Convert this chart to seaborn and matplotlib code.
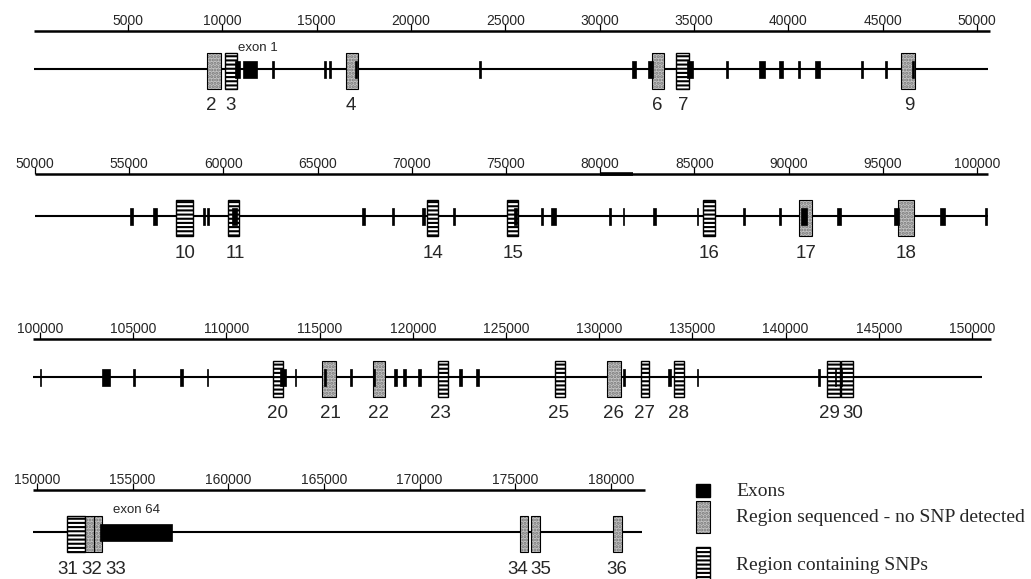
import numpy as np
import pandas as pd
import seaborn as sns
import matplotlib.pyplot as plt
from matplotlib.patches import Rectangle

# ---- data (base pairs), one block per map row ----
ticks_1 = [5000, 10000, 15000, 20000, 25000, 30000, 35000, 40000, 45000, 50000]
scale_1 = (0, 50700)
backbone_1 = (0, 50570)
exons_1 = [(10670, 10930), (11090, 11830), (12620, 12760), (15400, 15490), (15660, 15750),
           (17030, 17160), (23600, 23710), (31710, 31920), (32560, 32820), (34620, 34940),
           (36690, 36800), (38440, 38750), (39500, 39710), (40510, 40610), (41400, 41670),
           (43850, 43950), (45130, 45210), (46550, 46680)]
plain_1 = [(9180, 9930), (16550, 17190), (32770, 33400), (45960, 46700)]
snp_1 = [(10140, 10770), (34040, 34730)]
names_1 = ['2', '3', '4', '6', '7', '9']
name_pos_1 = [9400, 10450, 16800, 33030, 34410, 46390]

ticks_2 = [50000, 55000, 60000, 65000, 70000, 75000, 80000, 85000, 90000, 95000, 100000]
scale_2 = (50000, 100600)
heavy_2 = (80000, 81750)
backbone_2 = (50000, 100580)
exons_2 = [(55060, 55200), (56250, 56490), (58920, 59020), (59150, 59250), (60440, 60740),
           (67370, 67490), (68930, 69050), (70540, 70680), (72170, 72310), (75420, 75560),
           (76870, 76990), (77390, 77640), (80460, 80580), (81190, 81270), (82800, 82940),
           (85140, 85200), (87570, 87690), (89480, 89600), (90640, 90960), (92550, 92800),
           (95610, 95860), (98040, 98300), (100450, 100510)]
plain_2 = [(90550, 91220), (95820, 96660)]
snp_2 = [(57470, 58400), (60260, 60840), (70820, 71380), (75040, 75660), (85470, 86090)]
names_2 = ['10', '11', '14', '15', '16', '17', '18']
name_pos_2 = [57960, 60620, 71140, 75370, 85790, 90920, 96220]

ticks_3 = [100000, 105000, 110000, 115000, 120000, 125000, 130000, 135000, 140000, 145000, 150000]
scale_3 = (99620, 151020)
backbone_3 = (99620, 150540)
exons_3 = [(99980, 100040), (103310, 103760), (105000, 105120), (107530, 107670), (108950, 109010),
           (112880, 113180), (113690, 113750), (115230, 115350), (116610, 116750), (117850, 117990),
           (119010, 119150), (119470, 119610), (120280, 120420), (122500, 122640), (123390, 123530),
           (131260, 131400), (133690, 133830), (135250, 135310), (141760, 141820), (142670, 142730),
           (142930, 143010)]
plain_3 = [(115150, 115880), (117850, 118510), (130440, 131150)]
snp_3 = [(112480, 113050), (121340, 121900), (127630, 128170), (132230, 132690), (134030, 134550),
         (142240, 142920), (142960, 143630)]
names_3 = ['20', '21', '22', '23', '25', '26', '27', '28', '29', '30']
name_pos_3 = [112730, 115560, 118150, 121460, 127800, 130790, 132420, 134240, 142330, 143600]

ticks_4 = [150000, 155000, 160000, 165000, 170000, 175000, 180000]
scale_4 = (149790, 181780)
backbone_4 = (149790, 181620)
exons_4 = [(153290, 157060)]
plain_4 = [(152510, 152980), (152980, 153400), (175250, 175670), (175820, 176290), (180100, 180580)]
snp_4 = [(151570, 152510)]
names_4 = ['31', '32', '33', '34', '35', '36']
name_pos_4 = [151600, 152850, 154100, 175130, 176350, 180300]

exon_names = [('exon 1', 11900), ('exon 64', 155200)]

legend_labels = ['Exons', 'Region sequenced - no SNP detected', 'Region containing SNPs']

rows = [
    (ticks_1, scale_1, backbone_1, exons_1, plain_1, snp_1, names_1, name_pos_1),
    (ticks_2, scale_2, backbone_2, exons_2, plain_2, snp_2, names_2, name_pos_2),
    (ticks_3, scale_3, backbone_3, exons_3, plain_3, snp_3, names_3, name_pos_3),
    (ticks_4, scale_4, backbone_4, exons_4, plain_4, snp_4, names_4, name_pos_4),
]

# ---- layout (pixels of a 1031x579 canvas) ----
W, H = 1031, 579
# calibration: two ticks -> pixel x, then backbone y, scale y, band top, band bottom
layout = [
    (5000, 128, 50000, 977, 69, 31, 0, 122),
    (50000, 35, 100000, 977, 216, 174, 122, 282),
    (100000, 40, 150000, 972, 377, 339, 282, 445),
    (150000, 37, 180000, 611, 532, 490, 445, 579),
]

sns.set_theme(style="white")
plt.rcParams['font.family'] = ['Liberation Sans', 'DejaVu Sans']
plt.rcParams['hatch.linewidth'] = 1.5

fig = plt.figure(figsize=(W / 100, H / 100), dpi=100)
fig.patch.set_facecolor('white')

stipple = dict(facecolor='#c4c4c4', edgecolor='#777777', hatch='.....', linewidth=0)

for i, (row, lay) in enumerate(zip(rows, layout)):
    ticks, scale, backbone, exons, plain, snp, names, name_pos = row
    bp_a, px_a, bp_b, px_b, y_bb, y_sc, top, bottom = lay
    ax = fig.add_axes([0, 1 - bottom / H, 1, (bottom - top) / H])
    ax.set_axis_off()
    per_px = (bp_b - bp_a) / (px_b - px_a)
    ax.set_xlim(bp_a - px_a * per_px, bp_a + (W - px_a) * per_px)
    ax.set_ylim(y_bb - bottom, y_bb - top)
    sc = y_bb - y_sc

    # ruler
    ax.hlines(sc, scale[0], scale[1], color='black', lw=1.8)
    if i == 1:
        ax.hlines(sc - 0.4, heavy_2[0], heavy_2[1], color='black', lw=2.6)
    ax.vlines(ticks, sc, sc + 7, color='black', lw=0.9)
    for t in ticks:
        ax.text(t, sc + 3, str(t), ha='center', va='bottom', fontsize=10)

    # backbone
    ax.hlines(0, backbone[0], backbone[1], color='black', lw=1.5, zorder=1)

    for s, e in plain:
        ax.add_patch(Rectangle((s, -20), e - s, 36, zorder=2, **stipple))
        ax.add_patch(Rectangle((s, -20), e - s, 36, fill=False, edgecolor='black',
                               lw=0.8, zorder=3))
    for s, e in snp:
        ax.add_patch(Rectangle((s, -20), e - s, 36, facecolor='white', edgecolor='black',
                               hatch='----', lw=1.0, zorder=2))
    for s, e in exons:
        ax.add_patch(Rectangle((s, -8.5), e - s, 17, facecolor='black', edgecolor='black',
                               lw=0.5, zorder=4))

    for n, p in zip(names, name_pos):
        ax.text(p, -37, n, ha='center', va='center', fontsize=13.5)

    if i == 0:
        ax.text(exon_names[0][1], 21, exon_names[0][0], ha='center', va='center', fontsize=9.5)
    if i == 3:
        ax.text(exon_names[1][1], 22, exon_names[1][0], ha='center', va='center', fontsize=9.5)

# ---- key ----
kx = fig.add_axes([680 / W, 0, 1 - 680 / W, 112 / H])
kx.set_axis_off()
kx.set_xlim(680, W)
kx.set_ylim(579, 467)
kx.add_patch(Rectangle((696, 484), 14, 13, facecolor='black', edgecolor='black'))
kx.add_patch(Rectangle((696, 501), 14, 32, **stipple))
kx.add_patch(Rectangle((696, 501), 14, 32, fill=False, edgecolor='black', lw=0.8))
kx.add_patch(Rectangle((696, 547), 14, 40, facecolor='white', edgecolor='black',
                       hatch='----', lw=1.0, clip_on=True))
for lab, yy in zip(legend_labels, [491, 518, 565]):
    kx.text(736, yy, lab, ha='left', va='center', fontsize=14,
            family=['Liberation Serif', 'DejaVu Serif'])

fig.savefig('out.png', dpi=100, facecolor='white')
